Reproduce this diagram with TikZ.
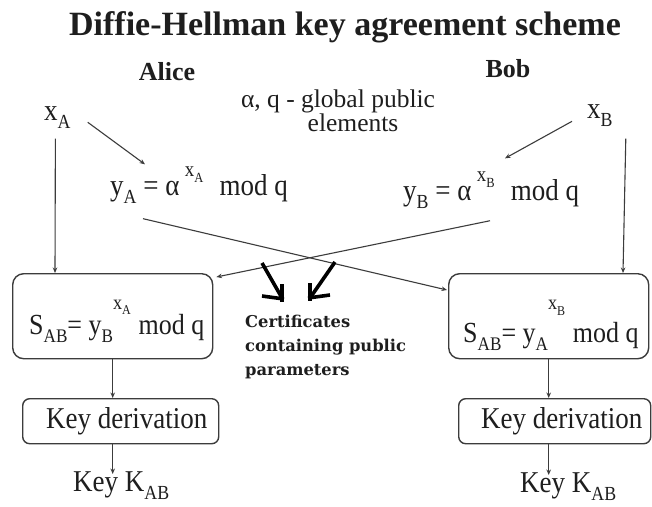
\documentclass[tikz,border=0pt]{standalone}
\usepackage{fontspec}
\usepackage{graphicx}
\setmainfont{Liberation Serif}
\newfontfamily\certfont{DejaVu Serif}
\usetikzlibrary{arrows.meta,calc}

% lowered and raised small text for indices and exponents
\newcommand\dnidx[1]{\raisebox{-0.28em}{\scalebox{0.66}{#1}}}
\newcommand\upidx[2]{\raisebox{#1}{\scalebox{0.7}{#2}}}
% slightly tall lettering of the formulas and labels
\newcommand\tall[1]{\scalebox{1}[1.12]{#1}}

\definecolor{ink}{HTML}{1E1E1E}
\definecolor{wire}{HTML}{3C3C3C}

\tikzset{
  txt/.style={inner sep=0pt, text=ink, font=\fontsize{27}{30}\selectfont},
  stxt/.style={inner sep=0pt, text=ink, font=\fontsize{26}{30}\selectfont},
  heading/.style={inner sep=0pt, text=ink, font=\bfseries\fontsize{34}{38}\selectfont},
  party/.style={inner sep=0pt, text=ink, font=\bfseries\fontsize{26}{30}\selectfont},
  note/.style={inner sep=0pt, text=ink, font=\fontsize{25.5}{27}\selectfont},
  certtxt/.style={inner sep=0pt, text=ink, align=left, font=\certfont\bfseries\fontsize{16.3}{24}\selectfont},
  roundbox/.style={draw=wire, line width=1.4pt, rounded corners=11pt, inner sep=0pt},
  kdbox/.style={draw=wire, line width=1.4pt, rounded corners=7pt, inner sep=0pt,
                minimum height=45pt, text=ink, font=\fontsize{27}{30}\selectfont},
  arr/.style={draw=wire, line width=1.1pt, -{Stealth[length=5.5pt,width=4.5pt]}},
  handarrow/.style={draw=black, line width=3.6pt},
}

\begin{document}
\begin{tikzpicture}[x=1pt,y=-1pt]
\useasboundingbox (0,0) rectangle (652,506);
\fill[white] (0,0) rectangle (652,506);

% headings
\node[heading, anchor=base] (title) at (345,35) {Diffie-Hellman key agreement scheme};
\node[party, anchor=base] (alice) at (167,80) {Alice};
\node[party, anchor=base] (bob) at (508,77) {Bob};
\node[note, anchor=base] (glob1) at (338,107) {α, q - global public};
\node[note, anchor=base] (glob2) at (353,131) {elements};

% private keys
\node[txt, anchor=base west] (xA) at (44,120) {\tall{x\dnidx{A}}};
\node[txt, anchor=base west] (xB) at (587,118) {\tall{x\dnidx{B}}};

% public keys
\node[txt, anchor=base west] (yA) at (110,195)
  {\tall{y\dnidx{A} = α\hspace{0.2em}\upidx{0.62em}{x\dnidx{A}}\hspace{0.35em} mod q}};
\node[txt, anchor=base west] (yB) at (403,200)
  {\tall{y\dnidx{B} = α\hspace{0.2em}\upidx{0.62em}{x\dnidx{B}}\hspace{0.35em} mod q}};

% shared secret boxes
\node[roundbox, minimum width=200pt, minimum height=85pt, anchor=north west] (boxL) at (12,273) {};
\node[roundbox, minimum width=200pt, minimum height=85pt, anchor=north west] (boxR) at (448,273) {};
\node[stxt, anchor=base west] (sL) at (29,334)
  {\tall{S\dnidx{AB}= y\dnidx{B}\upidx{0.85em}{x\dnidx{A}}\hspace{0.05em} mod q}};
\node[stxt, anchor=base west] (sR) at (463,342)
  {\tall{S\dnidx{AB}= y\dnidx{A}\upidx{1.12em}{x\dnidx{B}}\hspace{0.05em} mod q}};

% key derivation
\node[kdbox, minimum width=196pt, anchor=north west] (kdL) at (22,398) {\tall{\hspace{12pt}Key derivation}};
\node[kdbox, minimum width=192pt, anchor=north west] (kdR) at (458,398) {\tall{\hspace{14pt}Key derivation}};
\node[txt, anchor=base west] (keyL) at (73,491) {\tall{Key K\dnidx{AB}}};
\node[txt, anchor=base west] (keyR) at (520,492) {\tall{Key K\dnidx{AB}}};

% certificates
\node[certtxt, anchor=north west] (cert) at (245,315) {Certificates\\containing public\\parameters};

% private key to public key
\draw[arr] ($(xA.east)+(17,5)$) -- ($(yA.north west)+(35,-2)$);
\draw[arr] ($(xB.west)+(-15,6)$) -- ($(yB.north west)+(102,-13)$);

% private key into the shared secret box
\draw[arr] ($(xA.south)+(-2,10)$) -- ($(boxL.north west)+(43,0)$);
\draw[arr] ($(xB.south east)+(13,12)$) -- ($(boxR.north west)+(175,0)$);

% exchanged public keys
\draw[arr] ($(yA.south west)+(33,15)$) -- ($(boxR.north west)+(-1,17)$);
\draw[arr] ($(yB.south west)+(87,12)$) -- ($(boxL.north east)+(3,4)$);

% down the chain
\draw[arr] (boxL.south) -- (boxL.south |- kdL.north);
\draw[arr] (boxR.south) -- (boxR.south |- kdR.north);
\draw[arr, shorten >=-3pt] (boxL.south |- kdL.south) -- (boxL.south |- keyL.north);
\draw[arr, shorten >=-3pt] (boxR.south |- kdR.south) -- (boxR.south |- keyR.north);

% hand-drawn arrows pointing at the certificates
\draw[handarrow] ($(cert.north west)+(17,-52)$) -- ($(cert.north west)+(37,-17)$);
\draw[handarrow] ($(cert.north west)+(17,-19)$) -- ($(cert.north west)+(39,-16)$);
\draw[handarrow] ($(cert.north west)+(37,-31)$) -- ($(cert.north west)+(37,-13)$);
\draw[handarrow] ($(cert.north west)+(90,-53)$) -- ($(cert.north west)+(65,-17)$);
\draw[handarrow] ($(cert.north west)+(63,-17)$) -- ($(cert.north west)+(85,-20)$);
\draw[handarrow] ($(cert.north west)+(65,-32)$) -- ($(cert.north west)+(65,-14)$);
\end{tikzpicture}
\end{document}
